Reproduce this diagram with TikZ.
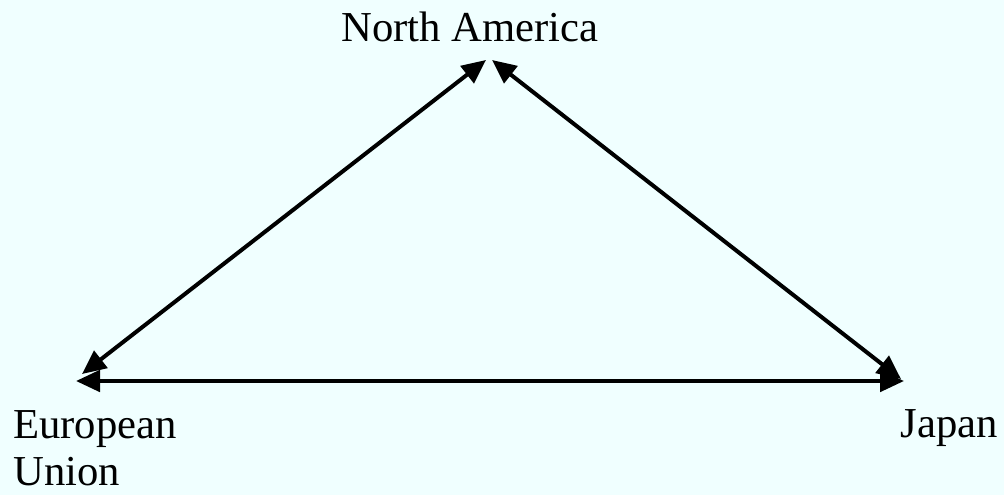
\documentclass[tikz,border=0pt]{standalone}
\usepackage{fontspec}
\setmainfont{Liberation Serif}
\usetikzlibrary{arrows.meta}
\definecolor{bgcol}{HTML}{F0FFFF}
\begin{document}
\begin{tikzpicture}[x=0.75pt,y=-0.75pt,
  lbl/.style={font=\fontsize{32}{35.25}\selectfont, inner sep=0pt, text=black},
  link/.style={line width=3pt, {Triangle[length=18pt,width=16pt]}-{Triangle[length=18pt,width=16pt]}}]
\fill[bgcol] (0,0) rectangle (1004,495);
\useasboundingbox (0,0) rectangle (1004,495);
\node[lbl, anchor=base] (na) at (470,42) {North America};
\node[lbl, anchor=base west, align=left] (eu) at (13,485) {European\\Union};
\node[lbl, anchor=base east] (jp) at (998,437) {Japan};
\coordinate (naL) at (486,60);
\coordinate (naR) at (492,60);
\coordinate (euD) at (82,374);
\coordinate (euH) at (76,381);
\coordinate (jpD) at (901,379);
\coordinate (jpH) at (904,381);
\draw[link] (naL) -- (euD);
\draw[link] (naR) -- (jpD);
\draw[link] (euH) -- (jpH);
\end{tikzpicture}
\end{document}
